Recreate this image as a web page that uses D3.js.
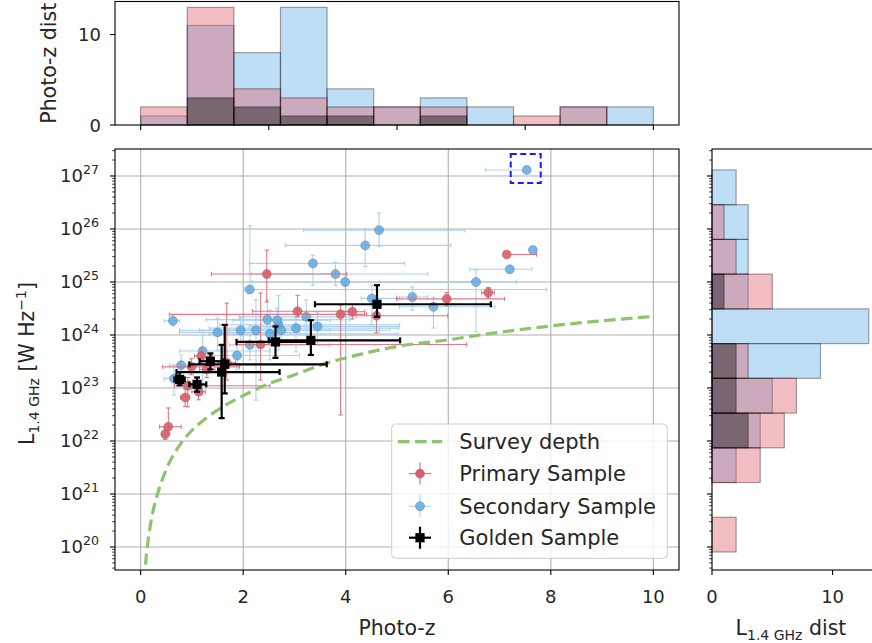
<!DOCTYPE html>
<html><head><meta charset="utf-8">
<script src="https://cdn.jsdelivr.net/npm/d3@7"></script>
<style>
body{margin:0;background:#fff}
text{font-family:"DejaVu Sans",sans-serif;fill:#262626}
</style>
</head><body>
<svg id="c" width="872" height="643"></svg>
<script>
// ---------- DATA ----------
// rows: [photo-z, z low, z high, L(1.4GHz) W/Hz, L low, L high]
const primarySample = [
  [0.48,0.42,0.55, 1.35e22,1.07e22,1.78e22],
  [0.54,0.37,0.79, 1.86e22,1.41e22,4.2e22],
  [0.87,0.78,0.96, 6.6e22,4.5e22,9.5e22],
  [1.13,1.00,1.26, 8.5e22,6.0e22,1.26e23],
  [0.92,0.66,2.52, 1.1e23,4.4e22,1.58e23],
  [1.18,1.05,1.40, 4.0e23,2.8e23,5.6e23],
  [1.29,1.15,1.45, 2.24e23,1.58e23,3.16e23],
  [0.99,0.43,1.93, 2.5e23,1.78e23,3.55e23],
  [1.68,1.50,1.85, 3.0e23,1.41e23,4.0e24],
  [2.34,1.87,6.36, 6.6e23,1.41e23,6.2e24],
  [2.46,1.38,4.02, 1.41e25,4.2e24,4.0e25],
  [3.06,2.18,4.08, 2.8e24,2.2e24,5.6e24],
  [3.90,0.56,4.41, 2.45e24,3.1e22,3.7e24],
  [4.13,3.88,4.37, 2.75e24,2.0e24,3.8e24],
  [4.60,4.20,5.99, 2.3e24,1.1e24,3.7e24],
  [5.97,4.99,7.10, 4.8e24,3.55e24,6.3e24],
  [6.78,6.65,6.90, 6.3e24,5.0e24,7.9e24],
  [7.14,7.14,7.72, 3.3e25,3.3e25,3.3e25]
];
const secondarySample = [
  [7.53,6.73,7.53, 1.3e27,1.3e27,1.3e27],
  [4.65,3.18,6.32, 9.5e25,4.7e25,2.0e26],
  [4.38,2.82,6.05, 4.9e25,1.95e25,1.0e26],
  [3.36,2.12,5.15, 2.24e25,8.7e24,3.2e25],
  [3.80,2.16,5.60, 1.41e25,8.7e24,2.34e25],
  [3.99,2.17,6.62, 1.0e25,7.1e24,1.35e25],
  [2.13,2.03,7.92, 7.2e24,6.2e24,1.15e26],
  [0.63,0.46,0.76, 1.86e24,1.48e24,2.4e24],
  [7.65,7.60,7.70, 4.0e25,4.0e25,4.0e25],
  [7.20,6.42,7.63, 1.74e25,1.5e25,2.0e25],
  [6.54,4.66,7.33, 1.0e25,1.15e24,1.7e25],
  [5.30,5.00,5.60, 5.2e24,2.95e24,8.1e24],
  [5.71,5.05,6.91, 3.4e24,1.35e24,5.2e24],
  [4.51,4.30,5.05, 4.9e24,1.55e24,8.7e24],
  [2.47,1.28,4.08, 1.95e24,6.5e23,4.6e24],
  [1.95,0.76,3.69, 1.23e24,6.5e23,2.1e24],
  [2.25,1.15,4.66, 1.23e24,5.9e22,4.6e24],
  [1.50,0.76,3.10, 1.12e24,5.2e23,2.1e24],
  [2.13,1.73,3.69, 6.5e23,3.4e23,1.23e24],
  [1.88,1.34,3.10, 4.1e23,2.2e23,8.1e23],
  [2.52,1.34,5.02, 1.05e24,3.4e23,2.95e24],
  [2.69,1.54,5.05, 1.55e24,5.2e23,5.6e24],
  [2.74,1.73,4.86, 1.23e24,6.5e23,2.1e24],
  [3.03,1.34,5.02, 1.35e24,4.8e23,2.1e24],
  [3.23,1.93,4.08, 2.2e24,1.0e24,4.6e24],
  [3.45,2.12,5.05, 1.45e24,6.5e23,2.7e24],
  [1.21,0.76,2.52, 5.0e23,7.4e22,1.23e24],
  [0.79,0.56,1.15, 2.7e23,1.15e23,4.2e23],
  [0.65,0.46,0.86, 1.5e23,7.4e22,2.7e23],
  [2.66,1.80,3.70, 1.9e24,1.0e24,3.2e24]
];
const goldenSample = [
  [0.76,0.66,0.86, 1.45e23,1.12e23,2.0e23],
  [1.10,0.95,1.28, 1.17e23,8.5e22,1.58e23],
  [1.36,1.15,1.62, 3.2e23,2.24e23,4.5e23],
  [1.64,0.95,3.63, 2.8e23,7.9e22,1.55e24],
  [1.58,0.70,2.71, 2.0e23,2.7e22,6.5e23],
  [2.63,1.87,3.30, 7.4e23,3.7e23,1.45e24],
  [3.32,2.50,5.06, 7.9e23,4.2e23,1.9e24],
  [4.61,3.40,6.83, 3.8e24,2.2e24,8.7e24]
];
const surveyZ = [0.08,0.10,0.13,0.20,0.33,0.50,0.82,1.00,1.30,1.60,1.93,2.45,3.00,3.56,4.14,5.05,6.00,6.62,8.00,10.0];
const surveyL = [2.2e19,5.2e19,1.0e20,2.95e20,1.0e21,2.9e21,1.0e22,1.58e22,2.8e22,4.4e22,6.6e22,1.15e23,1.78e23,2.8e23,4.0e23,6.2e23,8.1e23,1.0e24,1.48e24,2.24e24];
const highlighted = [7.53, 1.3e27];

// photo-z histogram: 11 bins between 0 and 10
const zBinRange = [0, 10];
const zHistPrimary   = [2,13,4,3,2,2,2,0,1,2,0];
const zHistSecondary = [1,11,8,13,4,2,3,2,0,2,2];
const zHistGolden    = [0,3,2,1,1,0,1,0,0,0,0];
// luminosity histogram: 11 log bins, low to high
const lBinRange = [8.05e19, 1.3e27];
const lHistPrimary   = [2,0,4,6,7,3,0,5,2,1,0];
const lHistSecondary = [0,0,2,4,5,9,13,3,3,3,2];
const lHistGolden    = [0,0,0,3,2,2,0,1,0,0,0];

const xTicks = [0,2,4,6,8,10];
const topXTicks = [0,2.5,5,7.5,10];
const yDecades = [20,21,22,23,24,25,26,27];
const countTicks = [0,10];
const legendLabels = ["Survey depth","Primary Sample","Secondary Sample","Golden Sample"];

// ---------- STYLE ----------
const C_RED = "#de5c6b", C_BLUE = "#5cace8";
const svg = d3.select("#c");
const M = {l:115, r:679, t:149, b:570};
const TOP = {t:1.5, b:125};
const RH = {l:712, r:876.6};

const x = d3.scaleLinear().domain([-0.5,10.5]).range([M.l, M.r]);
const y = d3.scaleLog().domain([Math.pow(10,19.566), Math.pow(10,27.509)]).range([M.b, M.t]);
const yTop = d3.scaleLinear().domain([0,13.65]).range([TOP.b, TOP.t]);
const xR = d3.scaleLinear().domain([0,13.65]).range([RH.l, RH.r]);

svg.append("defs").append("clipPath").attr("id","clipMain")
  .append("rect").attr("x",M.l).attr("y",M.t).attr("width",M.r-M.l).attr("height",M.b-M.t);

// ---------- MAIN PANEL ----------
const gGrid = svg.append("g");
gGrid.selectAll(null).data(xTicks).enter().append("line")
  .attr("x1",d=>x(d)).attr("x2",d=>x(d)).attr("y1",M.t).attr("y2",M.b)
  .attr("stroke","#b0b0b0").attr("stroke-width",1.1);
gGrid.selectAll(null).data(yDecades).enter().append("line")
  .attr("y1",d=>y(Math.pow(10,d))).attr("y2",d=>y(Math.pow(10,d))).attr("x1",M.l).attr("x2",M.r)
  .attr("stroke","#b0b0b0").attr("stroke-width",1.1);

const plot = svg.append("g").attr("clip-path","url(#clipMain)");

function errorbars(data, o) {
  const g = plot.append("g");
  const lines = g.append("g").attr("stroke",o.ecolor).attr("stroke-width",o.lw).attr("stroke-opacity",o.eop);
  data.forEach(d=>{
    const cx = x(d[0]), cy = y(d[3]);
    const xl = x(d[1]), xh = x(d[2]), yl = y(d[4]), yh = y(d[5]);
    if (xh-xl>0.5) {
      lines.append("line").attr("x1",xl).attr("x2",xh).attr("y1",cy).attr("y2",cy);
      lines.append("line").attr("x1",xl).attr("x2",xl).attr("y1",cy-o.cap).attr("y2",cy+o.cap);
      lines.append("line").attr("x1",xh).attr("x2",xh).attr("y1",cy-o.cap).attr("y2",cy+o.cap);
    }
    if (yl-yh>0.5) {
      lines.append("line").attr("x1",cx).attr("x2",cx).attr("y1",yl).attr("y2",yh);
      lines.append("line").attr("x1",cx-o.cap).attr("x2",cx+o.cap).attr("y1",yl).attr("y2",yl);
      lines.append("line").attr("x1",cx-o.cap).attr("x2",cx+o.cap).attr("y1",yh).attr("y2",yh);
    }
  });
  const mk = g.append("g");
  if (o.square) {
    mk.selectAll(null).data(data).enter().append("rect")
      .attr("x",d=>x(d[0])-o.r).attr("y",d=>y(d[3])-o.r).attr("width",2*o.r).attr("height",2*o.r)
      .attr("fill",o.fill);
  } else {
    mk.selectAll(null).data(data).enter().append("circle")
      .attr("cx",d=>x(d[0])).attr("cy",d=>y(d[3])).attr("r",o.r)
      .attr("fill",o.fill).attr("fill-opacity",o.fop)
      .attr("stroke","#6f6f6f").attr("stroke-opacity",0.55).attr("stroke-width",0.8);
  }
}

errorbars(secondarySample,{ecolor:"#a3cdf1",lw:1.1,eop:0.9,cap:2.2,r:4.5,fill:C_BLUE,fop:0.85});
errorbars(primarySample,{ecolor:"#e06a78",lw:1.1,eop:0.9,cap:2.2,r:4.5,fill:C_RED,fop:0.9});

// survey depth
plot.append("path")
  .datum(surveyZ.map((z,i)=>[z,surveyL[i]]))
  .attr("d", d3.line().x(d=>x(d[0])).y(d=>y(d[1])).curve(d3.curveMonotoneX))
  .attr("fill","none").attr("stroke","#8cc46e").attr("stroke-width",3.2).attr("stroke-dasharray","11.5,5.5");

errorbars(goldenSample,{ecolor:"#000",lw:2.2,eop:1,cap:3,r:4.6,square:true,fill:"#000"});

// highlight box
plot.append("rect")
  .attr("x",x(highlighted[0])-16).attr("y",y(highlighted[1])-16).attr("width",30).attr("height",29)
  .attr("fill","none").attr("stroke","#1a1aff").attr("stroke-width",2).attr("stroke-dasharray","6,3.5");

// axes main
const axes = svg.append("g").attr("stroke","#000").attr("stroke-width",1.1);
axes.append("rect").attr("x",M.l).attr("y",M.t).attr("width",M.r-M.l).attr("height",M.b-M.t).attr("fill","none");
xTicks.forEach(t=>{
  axes.append("line").attr("x1",x(t)).attr("x2",x(t)).attr("y1",M.b).attr("y2",M.b+5);
  svg.append("text").attr("x",x(t)).attr("y",603).attr("text-anchor","middle").attr("font-size",18).text(t);
});
function logTicks(xpos, withLabels) {
  for (let e=19; e<=27; e++) for (let k=1; k<=9; k++) {
    const v = k*Math.pow(10,e);
    if (v < y.domain()[0] || v > y.domain()[1]) continue;
    const len = k===1 ? 5 : 2.8;
    axes.append("line").attr("x1",xpos-len).attr("x2",xpos).attr("y1",y(v)).attr("y2",y(v))
      .attr("stroke-width", k===1?1.1:0.8);
  }
  if (withLabels) yDecades.forEach(d=>{
    const t = svg.append("text").attr("x",99).attr("y",y(Math.pow(10,d))+6.5).attr("text-anchor","end").attr("font-size",18);
    t.append("tspan").text("10");
    t.append("tspan").attr("font-size",12.6).attr("dy",-8.5).text(d);
  });
}
logTicks(M.l, true);

// axis labels
svg.append("text").attr("x",(M.l+M.r)/2).attr("y",635).attr("text-anchor","middle").attr("font-size",20.5).text("Photo-z");
const yl = svg.append("text").attr("transform",`translate(34,${(M.t+M.b)/2+4}) rotate(-90)`)
  .attr("text-anchor","middle").attr("font-size",20.5);
yl.append("tspan").text("L");
yl.append("tspan").attr("font-size",14).attr("dy",4.5).text("1.4 GHz");
yl.append("tspan").attr("dy",-4.5).text(" [W Hz");
yl.append("tspan").attr("font-size",14).attr("dy",-8).text("\u22121");
yl.append("tspan").attr("dy",8).text("]");

// legend
const lg = svg.append("g");
lg.append("rect").attr("x",391.7).attr("y",424).attr("width",275.6).attr("height",134.3).attr("rx",4)
  .attr("fill","#fff").attr("fill-opacity",0.8).attr("stroke","#cccccc").attr("stroke-width",1);
const ly = [441.7,473.6,506.2,537.7];
legendLabels.forEach((s,i)=>{
  lg.append("text").attr("x",459.3).attr("y",ly[i]).attr("dy","0.36em").attr("font-size",21).text(s);
});
lg.append("line").attr("x1",398).attr("x2",442).attr("y1",ly[0]).attr("y2",ly[0])
  .attr("stroke","#8cc46e").attr("stroke-width",3.2).attr("stroke-dasharray","11.5,5.5");
function legErr(yy, col, lw, half, marker) {
  lg.append("line").attr("x1",420-half).attr("x2",420+half).attr("y1",yy).attr("y2",yy).attr("stroke",col).attr("stroke-width",lw);
  lg.append("line").attr("x1",420).attr("x2",420).attr("y1",yy-half).attr("y2",yy+half).attr("stroke",col).attr("stroke-width",lw);
  marker();
}
legErr(ly[1],"#e06a78",1.1,11,()=>lg.append("circle").attr("cx",420).attr("cy",ly[1]).attr("r",4.5).attr("fill",C_RED).attr("stroke","#6f6f6f").attr("stroke-opacity",0.55).attr("stroke-width",0.8));
legErr(ly[2],"#a3cdf1",1.1,11,()=>lg.append("circle").attr("cx",420).attr("cy",ly[2]).attr("r",4.5).attr("fill",C_BLUE).attr("fill-opacity",0.85).attr("stroke","#6f6f6f").attr("stroke-opacity",0.55).attr("stroke-width",0.8));
legErr(ly[3],"#000",2.2,11,()=>lg.append("rect").attr("x",420-4.6).attr("y",ly[3]-4.6).attr("width",9.2).attr("height",9.2).attr("fill","#000"));

// ---------- TOP HISTOGRAM ----------
const zEdges = d3.range(12).map(i=>zBinRange[0]+i*(zBinRange[1]-zBinRange[0])/11);
function topBars(counts, col) {
  const g = svg.append("g");
  counts.forEach((c,i)=>{
    if (c<=0) return;
    g.append("rect").attr("x",x(zEdges[i])).attr("width",x(zEdges[i+1])-x(zEdges[i]))
      .attr("y",yTop(c)).attr("height",yTop(0)-yTop(c))
      .attr("fill",col).attr("fill-opacity",0.4).attr("stroke","#000").attr("stroke-opacity",0.35).attr("stroke-width",1.2);
  });
}
topBars(zHistSecondary, C_BLUE);
topBars(zHistPrimary, C_RED);
topBars(zHistGolden, "#000");
const ta = svg.append("g").attr("stroke","#000").attr("stroke-width",1.1);
ta.append("rect").attr("x",M.l).attr("y",TOP.t).attr("width",M.r-M.l).attr("height",TOP.b-TOP.t).attr("fill","none");
topXTicks.forEach(t=>ta.append("line").attr("x1",x(t)).attr("x2",x(t)).attr("y1",TOP.b).attr("y2",TOP.b+5));
countTicks.forEach(t=>{
  ta.append("line").attr("x1",M.l-5).attr("x2",M.l).attr("y1",yTop(t)).attr("y2",yTop(t));
  svg.append("text").attr("x",101).attr("y",yTop(t)+6.5).attr("text-anchor","end").attr("font-size",18).text(t);
});
svg.append("text").attr("transform",`translate(56,${(TOP.t+TOP.b)/2}) rotate(-90)`)
  .attr("text-anchor","middle").attr("font-size",20.5).text("Photo-z dist");

// ---------- RIGHT HISTOGRAM ----------
const lg0 = Math.log10(lBinRange[0]), lg1 = Math.log10(lBinRange[1]);
const lEdges = d3.range(12).map(i=>Math.pow(10, lg0+i*(lg1-lg0)/11));
function rightBars(counts, col) {
  const g = svg.append("g");
  counts.forEach((c,i)=>{
    if (c<=0) return;
    g.append("rect").attr("x",xR(0)).attr("width",xR(c)-xR(0))
      .attr("y",y(lEdges[i+1])).attr("height",y(lEdges[i])-y(lEdges[i+1]))
      .attr("fill",col).attr("fill-opacity",0.4).attr("stroke","#000").attr("stroke-opacity",0.35).attr("stroke-width",1.2);
  });
}
rightBars(lHistSecondary, C_BLUE);
rightBars(lHistPrimary, C_RED);
rightBars(lHistGolden, "#000");
const ra = svg.append("g").attr("stroke","#000").attr("stroke-width",1.1);
ra.append("rect").attr("x",RH.l).attr("y",M.t).attr("width",RH.r-RH.l).attr("height",M.b-M.t).attr("fill","none");
countTicks.forEach(t=>{
  ra.append("line").attr("x1",xR(t)).attr("x2",xR(t)).attr("y1",M.b).attr("y2",M.b+5);
  svg.append("text").attr("x",xR(t)).attr("y",603).attr("text-anchor","middle").attr("font-size",18).text(t);
});
for (let e=19; e<=27; e++) for (let k=1; k<=9; k++) {
  const v = k*Math.pow(10,e);
  if (v < y.domain()[0] || v > y.domain()[1]) continue;
  const len = k===1 ? 5 : 2.8;
  ra.append("line").attr("x1",RH.l-len).attr("x2",RH.l).attr("y1",y(v)).attr("y2",y(v)).attr("stroke-width",k===1?1.1:0.8);
}
const rl = svg.append("text").attr("x",(RH.l+870)/2).attr("y",635).attr("text-anchor","middle").attr("font-size",20.5);
rl.append("tspan").text("L");
rl.append("tspan").attr("font-size",14).attr("dy",4.5).text("1.4 GHz");
rl.append("tspan").attr("dy",-4.5).text(" dist");
</script>
</body></html>
